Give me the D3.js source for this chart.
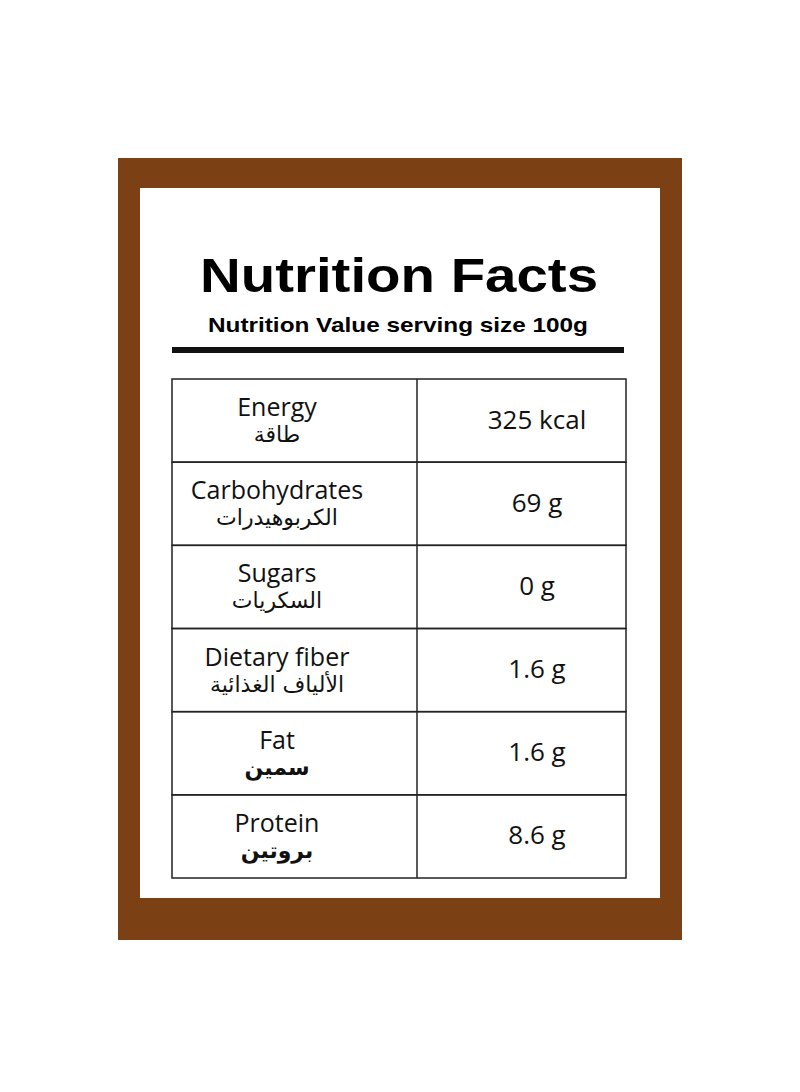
<!DOCTYPE html>
<html><head><meta charset="utf-8">
<script src="https://cdn.jsdelivr.net/npm/d3@7"></script>
<style>body{margin:0;background:#fff}</style></head>
<body><svg id="c" width="800" height="1092"></svg>
<script>
const categories=["Energy","Carbohydrates","Sugars","Dietary fiber","Fat","Protein"];
const arabic=["طاقة","الكربوهيدرات","السكريات","الألياف الغذائية","سمين","بروتين"];
const arabicBold=[false,false,false,false,true,true];
const values=["325 kcal","69 g","0 g","1.6 g","1.6 g","8.6 g"];
const title="Nutrition Facts", subtitle="Nutrition Value serving size 100g";

const svg=d3.select("#c");
svg.append("rect").attr("x",118).attr("y",158).attr("width",564).attr("height",782).attr("fill","#7B4115");
svg.append("rect").attr("x",140).attr("y",188).attr("width",520).attr("height",710).attr("fill","#fff");
svg.append("text").attr("x",200).attr("y",292)
 .attr("font-family","Liberation Sans, Arial").attr("font-weight","bold").attr("font-size",48)
 .attr("textLength",398).attr("lengthAdjust","spacingAndGlyphs").text(title);
svg.append("text").attr("x",208).attr("y",332)
 .attr("font-family","Liberation Sans, Arial").attr("font-weight","bold").attr("font-size",21)
 .attr("textLength",380).attr("lengthAdjust","spacingAndGlyphs").text(subtitle);
svg.append("rect").attr("x",172).attr("y",347).attr("width",452).attr("height",6).attr("fill","#111");

const y=d3.scaleBand().domain(categories).range([379,878]);
const x0=172,x1=417,x2=626, cx=277;
const g=svg.append("g");
g.selectAll("rect.row").data(categories).join("rect").attr("x",x0).attr("y",d=>y(d))
 .attr("width",x2-x0).attr("height",y.bandwidth()).attr("fill","none").attr("stroke","#222").attr("stroke-width",1.5);
g.append("line").attr("x1",x1).attr("x2",x1).attr("y1",379).attr("y2",878).attr("stroke","#222").attr("stroke-width",1.5);
const ff="Open Sans, Noto Sans, sans-serif";
g.selectAll("text.en").data(categories).join("text").attr("x",cx).attr("y",d=>y(d)+37)
 .attr("text-anchor","middle").attr("font-family",ff).attr("font-size",25).attr("fill","#111").text(d=>d);
g.selectAll("text.ar").data(arabic).join("text").attr("x",cx).attr("y",(d,i)=>y(categories[i])+63)
 .attr("text-anchor","middle").attr("font-family","DejaVu Sans, Noto Sans, sans-serif").attr("font-size",22)
 .attr("font-weight",(d,i)=>arabicBold[i]?"bold":"normal").attr("direction","rtl").attr("fill","#111").text(d=>d);
g.selectAll("text.v").data(values).join("text").attr("x",537).attr("y",(d,i)=>y(categories[i])+y.bandwidth()/2+8)
 .attr("text-anchor","middle").attr("font-family",ff).attr("font-size",26).attr("fill","#111").text(d=>d);
</script></body></html>
